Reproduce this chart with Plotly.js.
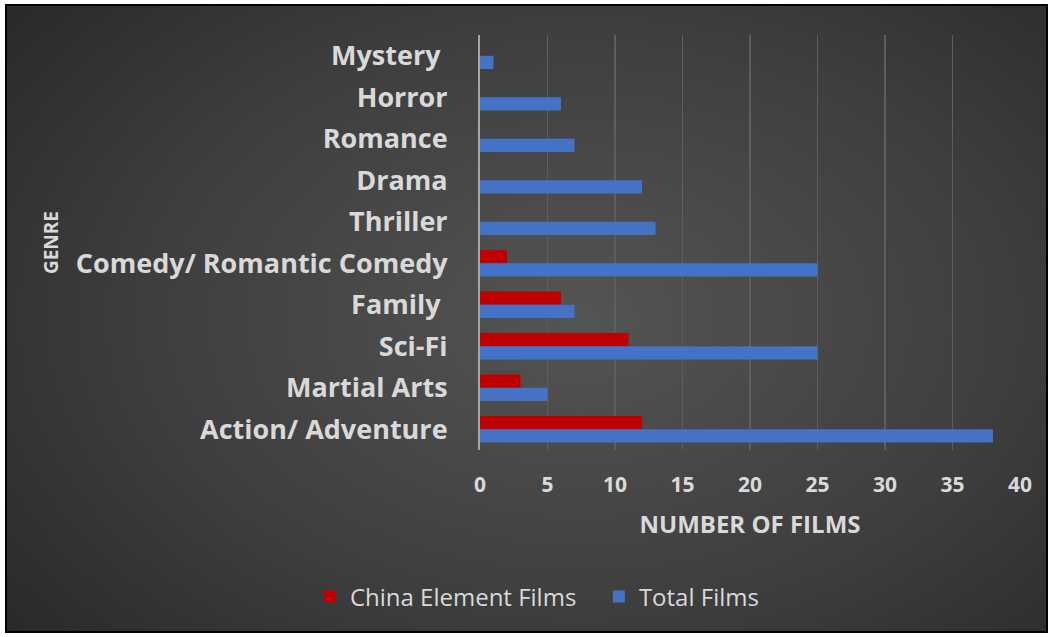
<!DOCTYPE html>
<html>
<head>
<meta charset="utf-8">
<script src="https://cdn.plot.ly/plotly-3.0.1.min.js"></script>
<style>
  html, body { margin: 0; padding: 0; background: #ffffff; width: 1049px; height: 637px; overflow: hidden; }
  #bg { position: absolute; left: 5px; top: 4px; width: 1039px; height: 625px; border: 2px solid #000;
        background: radial-gradient(ellipse 75% 85% at 55% 50%, #545454 0%, #3e3e3e 55%, #262626 100%); }
  #chart { position: absolute; left: 0; top: 0; width: 1049px; height: 637px; }
</style>
</head>
<body>
<div id="bg"></div>
<div id="chart"></div>
<script>
const genres = ["Mystery ", "Horror", "Romance", "Drama", "Thriller", "Comedy/ Romantic Comedy", "Family ", "Sci-Fi", "Martial Arts", "Action/ Adventure"];
const chinaElementFilms = [0, 0, 0, 0, 0, 2, 6, 11, 3, 12];
const totalFilms = [1, 6, 7, 12, 13, 25, 7, 25, 5, 38];
const xTicks = [0, 5, 10, 15, 20, 25, 30, 35, 40];

const textColor = "#d9d9d9";
const fontFam = "'Open Sans', Lato, sans-serif";

const traces = [
  { type: "bar", orientation: "h", name: "China Element Films", y: genres, x: chinaElementFilms,
    marker: { color: "#c00000", line: { width: 0 } }, hoverinfo: "x+y" },
  { type: "bar", orientation: "h", name: "Total Films", y: genres, x: totalFilms,
    marker: { color: "#4472c4", line: { width: 0 } }, hoverinfo: "x+y" }
];

const layout = {
  width: 1049, height: 637,
  paper_bgcolor: "rgba(0,0,0,0)", plot_bgcolor: "rgba(0,0,0,0)",
  margin: { l: 480, r: 29, t: 35, b: 187 },
  barmode: "group", bargap: 0.36, bargroupgap: 0,
  font: { family: fontFam, color: textColor },
  showlegend: true,
  legend: { orientation: "h", x: -0.315, xanchor: "left", y: -0.354, yanchor: "middle",
            entrywidth: 244, entrywidthmode: "pixels",
            font: { size: 24, color: textColor, family: fontFam }, bgcolor: "rgba(0,0,0,0)" },
  xaxis: {
    range: [0, 40], tickvals: xTicks, ticktext: xTicks.map(String),
    showgrid: true, gridcolor: "#5e5e5e", gridwidth: 1.5,
    zeroline: false, showline: false, ticks: "",
    ticklabelstandoff: 20,
    tickfont: { size: 21, family: fontFam, color: textColor, weight: "bold" },
    title: { text: "NUMBER OF FILMS", standoff: 19, font: { size: 24, family: fontFam, color: textColor, weight: "bold" } },
    fixedrange: true
  },
  yaxis: {
    type: "category", autorange: "reversed",
    showgrid: false, zeroline: false,
    showline: true, linecolor: "#a6a6a6", linewidth: 2,
    ticks: "", ticklabelstandoff: 25,
    tickfont: { size: 27, family: fontFam, color: textColor, weight: "bold" },
    title: { text: "GENRE", standoff: 12, font: { size: 19, family: fontFam, color: textColor, weight: "bold" } },
    automargin: false, fixedrange: true
  }
};

Plotly.newPlot("chart", traces, layout, { displayModeBar: false, staticPlot: true });
</script>
</body>
</html>
